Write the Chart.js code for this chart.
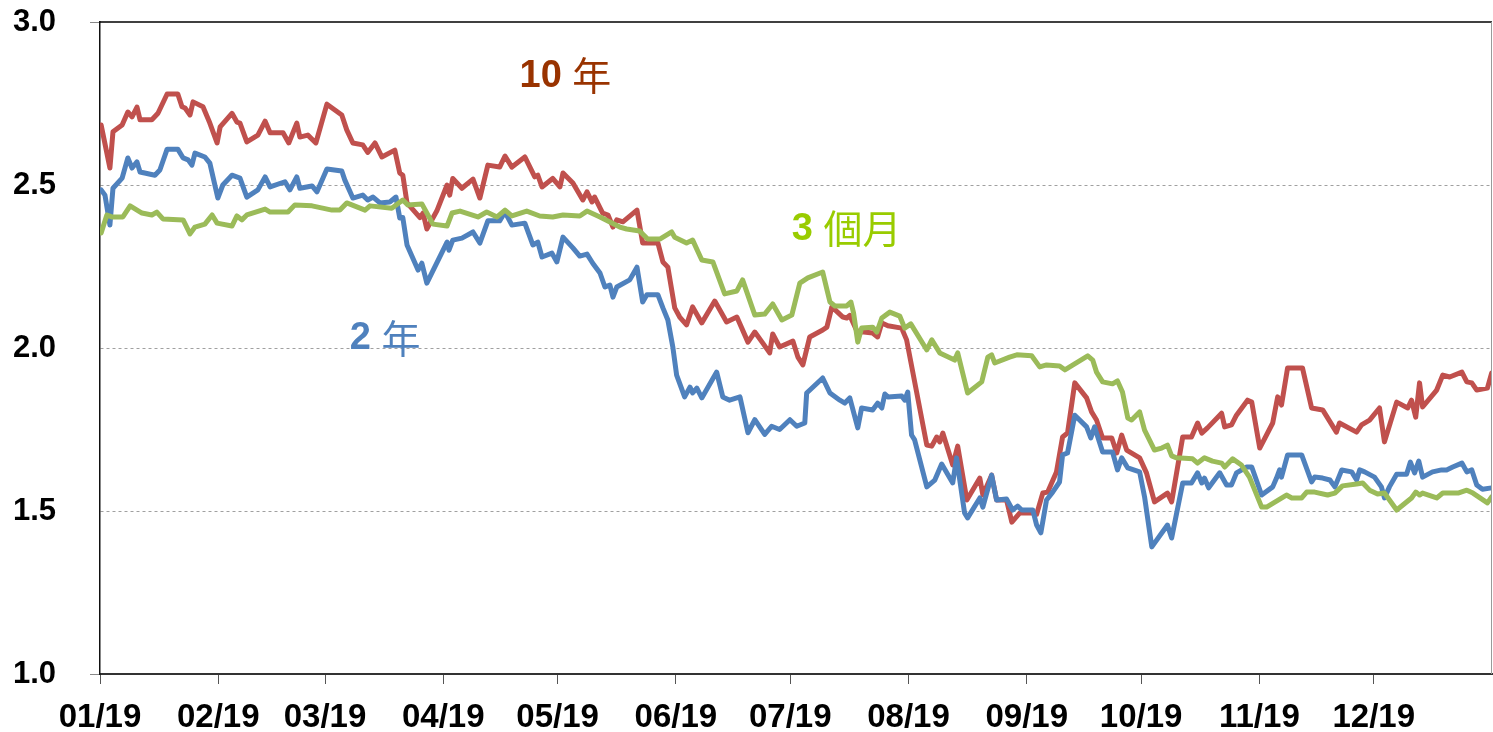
<!DOCTYPE html>
<html>
<head>
<meta charset="utf-8">
<script src="https://cdn.jsdelivr.net/npm/chart.js@4"></script>
<style>
  html, body { margin: 0; padding: 0; background: #ffffff; }
  #wrap { width: 1493px; height: 732px; }
</style>
</head>
<body>
<div id="wrap"><canvas id="c" width="1493" height="732"></canvas></div>
<script>
// ---- Data (x = day of 2019, starting 0 = Jan 1) ----
const monthStarts = [0, 31, 59, 90, 120, 151, 181, 212, 243, 273, 304, 334];
const monthLabels = ['01/19','02/19','03/19','04/19','05/19','06/19','07/19','08/19','09/19','10/19','11/19','12/19'];
const yTicks = [1.0, 1.5, 2.0, 2.5, 3.0];

const tenYear = [
 [0.3,2.684],[2.6,2.552],[3.4,2.663],[5.8,2.684],[7.3,2.724],[8.4,2.709],[9.7,2.739],[10.5,2.70],[13.6,2.70],[15.2,2.72],
 [17.6,2.779],[20.4,2.779],[21.5,2.74],[22.3,2.736],[23.6,2.715],[24.4,2.755],[27.0,2.74],[28.8,2.69],[30.7,2.629],[31.5,2.678],
 [34.6,2.72],[35.9,2.693],[36.7,2.69],[38.5,2.632],[41.4,2.653],[43.3,2.696],[44.6,2.66],[48.0,2.66],[49.5,2.629],[51.6,2.69],
 [52.4,2.647],[54.5,2.653],[56.6,2.629],[59.5,2.748],[63.4,2.715],[64.7,2.669],[66.3,2.629],[68.9,2.623],[70.2,2.60],[72.1,2.629],
 [73.9,2.586],[77.3,2.607],[78.6,2.537],[79.4,2.53],[80.5,2.445],[83.9,2.40],[84.7,2.414],[85.7,2.365],[88.3,2.42],[91.0,2.50],
 [91.7,2.469],[92.5,2.52],[94.9,2.49],[97.8,2.518],[99.6,2.46],[101.7,2.561],[104.8,2.555],[106.2,2.589],[108.0,2.555],[111.4,2.586],
 [114.0,2.525],[114.8,2.53],[115.9,2.494],[118.7,2.52],[120.6,2.494],[121.4,2.537],[124.0,2.506],[126.6,2.454],[127.7,2.479],[129.0,2.448],
 [129.7,2.463],[131.8,2.414],[133.2,2.408],[134.5,2.371],[135.5,2.393],[137.1,2.387],[140.8,2.423],[142.3,2.322],[146.3,2.322],[147.6,2.264],
 [148.9,2.248],[150.7,2.123],[152.0,2.095],[153.8,2.071],[155.4,2.126],[157.8,2.077],[161.2,2.144],[164.3,2.08],[167.0,2.095],[169.9,2.018],
 [171.7,2.049],[173.8,2.015],[175.6,1.985],[176.4,2.043],[178.2,2.003],[181.7,2.021],[183.0,1.972],[184.3,1.948],[186.1,2.034],[189.5,2.055],
 [190.6,2.064],[191.9,2.126],[194.8,2.095],[195.8,2.092],[196.6,2.10],[198.7,2.046],[199.7,2.05],[202.6,2.046],[203.9,2.034],[205.0,2.077],
 [206.6,2.068],[210.2,2.061],[211.5,2.025],[216.8,1.702],[218.1,1.699],[219.4,1.727],[220.2,1.712],[221.0,1.739],[223.6,1.641],[224.9,1.699],
 [227.3,1.534],[230.7,1.601],[231.5,1.549],[233.8,1.61],[235.1,1.534],[237.7,1.534],[239.1,1.466],[241.2,1.494],[244.3,1.494],[245.6,1.49],
 [247.2,1.555],[248.5,1.558],[250.8,1.62],[252.4,1.727],[253.7,1.739],[255.6,1.893],[258.7,1.847],[260.0,1.804],[261.3,1.779],[262.9,1.724],
 [265.3,1.724],[266.6,1.678],[267.9,1.733],[269.2,1.687],[272.6,1.663],[274.4,1.617],[276.5,1.528],[279.9,1.555],[281.0,1.528],[283.9,1.727],
 [286.2,1.727],[287.8,1.77],[288.9,1.739],[290.4,1.755],[294.1,1.80],[294.9,1.758],[296.7,1.764],[298.0,1.794],[300.9,1.84],[302.0,1.834],
 [304.1,1.693],[307.5,1.77],[308.8,1.85],[309.8,1.825],[311.4,1.939],[315.3,1.939],[317.7,1.816],[320.6,1.81],[324.2,1.742],[325.0,1.77],
 [329.5,1.742],[330.8,1.764],[332.9,1.779],[335.5,1.816],[336.8,1.712],[340.0,1.834],[342.9,1.816],[343.9,1.84],[345.0,1.788],[346.0,1.893],
 [346.8,1.819],[350.5,1.871],[352.1,1.917],[353.9,1.911],[357.1,1.926],[358.4,1.896],[359.7,1.893],[361.0,1.871],[363.8,1.877],[364.9,1.923]
];

const twoYear = [
 [0.3,2.485],[1.3,2.469],[2.6,2.377],[3.4,2.49],[5.8,2.521],[7.3,2.583],[8.4,2.552],[9.7,2.571],[10.5,2.54],[14.4,2.53],
 [15.7,2.546],[17.6,2.61],[20.4,2.61],[21.8,2.583],[23.1,2.577],[24.1,2.561],[24.9,2.598],[27.5,2.586],[28.8,2.567],[30.9,2.46],
 [32.2,2.50],[34.6,2.53],[36.7,2.521],[38.5,2.463],[41.4,2.485],[43.3,2.525],[44.6,2.494],[48.5,2.51],[49.8,2.485],[51.6,2.525],
 [52.4,2.49],[55.6,2.497],[56.9,2.479],[59.5,2.549],[63.4,2.543],[64.2,2.515],[66.3,2.46],[68.9,2.469],[70.2,2.454],[71.6,2.463],
 [73.4,2.445],[76.0,2.448],[77.6,2.463],[78.6,2.399],[79.4,2.40],[80.5,2.316],[83.4,2.239],[84.4,2.26],[85.7,2.199],[91.0,2.325],
 [91.5,2.30],[92.5,2.331],[94.9,2.337],[97.8,2.356],[99.6,2.322],[101.7,2.39],[104.8,2.39],[106.2,2.417],[108.0,2.377],[111.4,2.383],
 [113.5,2.316],[114.8,2.325],[115.9,2.279],[118.5,2.291],[119.8,2.264],[121.4,2.34],[124.0,2.307],[125.8,2.282],[127.7,2.288],[129.2,2.26],
 [131.1,2.23],[132.4,2.187],[133.7,2.193],[134.5,2.156],[135.5,2.187],[138.9,2.209],[140.8,2.248],[142.3,2.141],[143.4,2.163],[146.3,2.163],
 [147.6,2.123],[148.9,2.086],[150.2,2.003],[151.2,1.917],[153.3,1.85],[154.7,1.88],[155.4,1.862],[156.5,1.877],[157.8,1.847],[161.7,1.926],
 [163.3,1.85],[165.1,1.84],[167.8,1.85],[169.9,1.74],[171.7,1.78],[174.3,1.735],[176.1,1.76],[178.2,1.75],[180.9,1.78],[182.7,1.76],
 [184.8,1.77],[185.3,1.862],[189.5,1.908],[191.4,1.862],[194.0,1.84],[195.3,1.831],[196.6,1.847],[198.7,1.755],[199.7,1.816],[202.6,1.81],
 [203.9,1.831],[205.0,1.816],[205.8,1.859],[206.6,1.85],[210.2,1.853],[211.0,1.84],[211.8,1.865],[212.8,1.733],[213.6,1.718],[216.8,1.574],
 [218.9,1.595],[220.7,1.644],[223.6,1.586],[224.6,1.663],[226.7,1.494],[227.5,1.479],[230.7,1.54],[231.5,1.512],[233.8,1.61],[235.1,1.534],
 [237.7,1.537],[239.3,1.503],[240.6,1.515],[241.7,1.503],[244.6,1.503],[245.6,1.457],[246.7,1.433],[248.2,1.534],[249.8,1.558],[251.6,1.589],
 [252.4,1.672],[253.7,1.678],[255.6,1.794],[258.7,1.758],[259.8,1.724],[260.8,1.758],[262.9,1.681],[265.5,1.681],[266.8,1.626],[267.9,1.663],
 [269.5,1.632],[272.6,1.62],[273.9,1.543],[275.8,1.39],[279.9,1.457],[281.0,1.417],[283.9,1.586],[286.2,1.586],[287.8,1.617],[288.9,1.586],
 [289.6,1.601],[290.7,1.571],[293.6,1.617],[295.4,1.58],[296.7,1.58],[298.0,1.617],[300.7,1.635],[302.0,1.635],[304.6,1.549],[307.5,1.574],
 [308.5,1.601],[309.3,1.626],[309.8,1.604],[311.4,1.672],[315.1,1.672],[317.7,1.589],[318.5,1.604],[320.6,1.601],[322.5,1.595],[323.8,1.574],
 [325.6,1.626],[328.2,1.62],[329.5,1.595],[330.3,1.626],[331.6,1.62],[334.2,1.604],[336.0,1.574],[336.8,1.54],[338.1,1.574],[340.0,1.613],
 [342.6,1.613],[343.6,1.65],[344.7,1.617],[345.8,1.653],[346.8,1.604],[349.4,1.62],[351.8,1.626],[353.1,1.626],[354.7,1.635],[357.1,1.647],
 [358.4,1.62],[359.7,1.626],[361.0,1.58],[362.5,1.567],[364.9,1.571]
];

const threeMonth = [
 [0.3,2.353],[1.8,2.408],[3.1,2.402],[6.0,2.402],[7.9,2.436],[11.0,2.414],[13.6,2.408],[14.9,2.417],[16.5,2.396],[21.8,2.393],
 [23.6,2.35],[24.9,2.371],[27.5,2.38],[29.4,2.408],[30.7,2.383],[34.6,2.374],[35.9,2.405],[37.2,2.393],[38.5,2.408],[43.3,2.426],
 [44.6,2.417],[49.3,2.417],[51.1,2.439],[55.6,2.436],[60.8,2.423],[62.9,2.423],[64.7,2.445],[69.5,2.423],[70.8,2.436],[76.5,2.429],
 [79.4,2.454],[80.7,2.439],[84.4,2.442],[85.7,2.414],[87.3,2.38],[91.0,2.374],[92.3,2.414],[94.4,2.42],[99.1,2.402],[101.4,2.417],
 [104.1,2.402],[106.2,2.423],[108.0,2.405],[111.9,2.42],[115.3,2.405],[118.7,2.402],[121.4,2.408],[125.8,2.405],[127.7,2.42],[131.1,2.402],
 [136.3,2.371],[138.1,2.365],[141.5,2.359],[143.6,2.334],[146.8,2.334],[149.9,2.356],[150.7,2.34],[153.8,2.322],[155.4,2.331],[157.8,2.27],
 [160.7,2.264],[163.8,2.166],[167.0,2.175],[168.5,2.209],[171.7,2.101],[174.3,2.104],[176.4,2.135],[178.8,2.086],[181.4,2.101],[183.5,2.199],
 [185.6,2.215],[189.5,2.233],[191.4,2.141],[192.7,2.129],[195.8,2.129],[196.9,2.141],[197.6,2.107],[198.7,2.018],[199.7,2.061],[202.6,2.064],
 [203.7,2.049],[205.0,2.092],[207.1,2.11],[209.7,2.098],[211.0,2.061],[212.6,2.074],[216.8,1.994],[218.1,2.025],[220.2,1.985],[224.1,1.963],
 [224.9,1.985],[227.5,1.862],[231.2,1.896],[232.8,1.972],[233.8,1.979],[234.6,1.954],[238.5,1.972],[240.4,1.979],[244.3,1.976],[246.4,1.942],
 [248.2,1.948],[251.6,1.945],[253.0,1.933],[259.0,1.976],[260.3,1.963],[261.3,1.926],[262.9,1.896],[265.5,1.89],[266.8,1.899],[268.1,1.865],
 [269.5,1.785],[270.5,1.779],[272.6,1.804],[273.9,1.748],[276.5,1.687],[278.4,1.693],[279.9,1.702],[281.0,1.669],[282.3,1.663],[286.5,1.66],
 [287.8,1.647],[289.6,1.663],[291.7,1.653],[294.1,1.647],[294.9,1.635],[297.0,1.66],[299.3,1.641],[301.4,1.604],[304.6,1.512],[305.9,1.512],
 [311.1,1.549],[312.5,1.54],[315.1,1.54],[316.4,1.558],[318.5,1.558],[321.9,1.549],[323.8,1.555],[325.8,1.577],[329.5,1.583],[331.1,1.586],
 [332.9,1.564],[335.0,1.552],[336.8,1.555],[340.0,1.503],[343.9,1.54],[345.0,1.558],[346.0,1.549],[346.8,1.555],[350.5,1.54],[352.1,1.555],
 [356.1,1.555],[358.4,1.564],[360.0,1.555],[363.8,1.525],[364.9,1.543]
];

const seriesNames = ['3 個月', '2 年', '10 年'];
const seriesColors = ['#9BBB59', '#4F81BD', '#C0504D'];

// ---- Plugins ----
const framePlugin = {
  id: 'frame',
  afterDatasetsDraw(chart) {
    const {ctx, chartArea: a} = chart;
    ctx.save();
    ctx.strokeStyle = '#000000';
    ctx.lineWidth = 1.5;
    ctx.beginPath(); ctx.moveTo(a.left, a.top); ctx.lineTo(a.right, a.top); ctx.stroke();
    ctx.strokeStyle = '#9a9a9a';
    ctx.lineWidth = 1;
    ctx.beginPath(); ctx.moveTo(a.right - 0.5, a.top); ctx.lineTo(a.right - 0.5, a.bottom); ctx.stroke();
    ctx.restore();
  }
};

const notes = [
  {num: '10', cjk: '年', day: 110, value: 2.837, color: '#993300'},
  {num: '3', cjk: '個月', day: 181.4, value: 2.368, color: '#99CC00'},
  {num: '2', cjk: '年', day: 65.5, value: 2.031, color: '#4F81BD'}
];
const notePlugin = {
  id: 'notes',
  afterDatasetsDraw(chart) {
    const {ctx} = chart;
    const xs = chart.scales.x, ys = chart.scales.y;
    ctx.save();
    ctx.textBaseline = 'middle';
    ctx.textAlign = 'left';
    notes.forEach(n => {
      const px = xs.getPixelForValue(n.day);
      const py = ys.getPixelForValue(n.value);
      ctx.fillStyle = n.color;
      ctx.font = 'bold 38px "Liberation Sans", Arial, sans-serif';
      ctx.fillText(n.num, px, py + 1);
      const w = ctx.measureText(n.num + ' ').width;
      ctx.font = '39px "Noto Sans CJK TC", "Noto Sans CJK SC", sans-serif';
      ctx.fillText(n.cjk, px + w, py);
    });
    ctx.restore();
  }
};

const datasets = [threeMonth, twoYear, tenYear].map((s, i) => ({
  label: seriesNames[i],
  data: s.map(p => ({x: p[0], y: p[1]})),
  borderColor: seriesColors[i],
  backgroundColor: seriesColors[i],
  borderWidth: 5,
  pointRadius: 0,
  tension: 0,
  borderJoinStyle: 'round',
  borderCapStyle: 'round',
  fill: false
}));

new Chart(document.getElementById('c'), {
  type: 'line',
  data: { datasets },
  plugins: [framePlugin, notePlugin],
  options: {
    responsive: false,
    animation: false,
    events: [],
    layout: { padding: { top: 22, right: 1, left: 0, bottom: 0 } },
    plugins: { legend: { display: false }, tooltip: { enabled: false } },
    scales: {
      x: {
        type: 'linear',
        min: 0,
        max: 365,
        afterBuildTicks(scale) { scale.ticks = monthStarts.map(v => ({value: v})); },
        afterFit(scale) { scale.height = 58; scale.paddingLeft = 0; scale.paddingRight = 0; },
        ticks: {
          autoSkip: false,
          maxRotation: 0,
          minRotation: 0,
          padding: 14,
          color: '#000000',
          font: { family: '"Liberation Sans", Arial, sans-serif', size: 33, weight: 'bold' },
          callback: (v) => { const i = monthStarts.indexOf(v); return i >= 0 ? monthLabels[i] : ''; }
        },
        grid: { drawOnChartArea: false, drawTicks: true, tickLength: 10, color: '#555555', lineWidth: 1 },
        border: { display: true, color: '#333333', width: 2 }
      },
      y: {
        min: 1.0,
        max: 3.0,
        afterBuildTicks(scale) { scale.ticks = yTicks.map(v => ({value: v})); },
        afterFit(scale) { scale.width = 100; scale.paddingTop = 0; scale.paddingBottom = 0; },
        ticks: {
          padding: 34,
          color: '#000000',
          font: { family: '"Liberation Sans", Arial, sans-serif', size: 31, weight: 'bold' },
          callback: (v) => Number(v).toFixed(1)
        },
        grid: {
          drawTicks: true,
          tickLength: 10,
          lineWidth: 1,
          color: (c) => (c.tick && c.tick.value > 1.01 && c.tick.value < 2.99) ? '#a0a0a0' : 'rgba(0,0,0,0)',
          tickColor: (c) => (c.tick && (c.tick.value < 1.01 || c.tick.value > 2.99)) ? '#888888' : 'rgba(0,0,0,0)'
        },
        border: { display: true, color: '#111111', width: 1.5, dash: [3, 3] }
      }
    }
  }
});
</script>
</body>
</html>
